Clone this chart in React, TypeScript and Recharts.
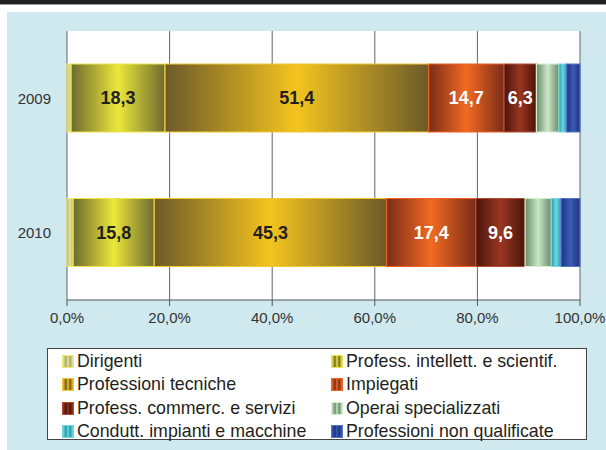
import { BarChart, Bar, XAxis, YAxis, CartesianGrid, LabelList } from 'recharts'

const years = ['2009', '2010']

const seriesNames = [
  'Dirigenti',
  'Profess. intellett. e scientif.',
  'Professioni tecniche',
  'Impiegati',
  'Profess. commerc. e servizi',
  'Operai specializzati',
  'Condutt. impianti e macchine',
  'Professioni non qualificate',
]

const dirigenti = [0.8, 1.2]
const intellettuali = [18.3, 15.8]
const tecniche = [51.4, 45.3]
const impiegati = [14.7, 17.4]
const commercio = [6.3, 9.6]
const operai = [4.4, 5.1]
const conduttori = [1.5, 1.9]
const nonQualificate = [2.6, 3.7]

const xTicks = [0, 20, 40, 60, 80, 100]

const seriesValues = [dirigenti, intellettuali, tecniche, impiegati, commercio, operai, conduttori, nonQualificate]

// dark edge, bright centre, border, label colour (null = no label)
const STYLES: { dark: string; bright: string; border: string; label: string | null }[] = [
  { dark: '#a8a860', bright: '#e8e8a0', border: '#ecec70', label: null },
  { dark: '#6e6a30', bright: '#ece83a', border: '#f0e448', label: '#231f20' },
  { dark: '#6c5a2a', bright: '#f4c41e', border: '#f2c830', label: '#231f20' },
  { dark: '#7a2c18', bright: '#f26a22', border: '#f26024', label: '#ffffff' },
  { dark: '#4a1408', bright: '#9a3622', border: '#b24a34', label: '#ffffff' },
  { dark: '#6a8a6a', bright: '#cae8c8', border: '#d4f0d2', label: null },
  { dark: '#2a9aa8', bright: '#6cd8e2', border: '#74d4e2', label: null },
  { dark: '#1c3282', bright: '#3c5cb2', border: '#5474c4', label: null },
]

const data = years.map((year, i) => {
  const row: Record<string, string | number> = { year }
  seriesValues.forEach((vals, s) => {
    row[`s${s}`] = vals[i]
  })
  return row
})

const FONT = '"Liberation Sans", Arial, sans-serif'

const fmtPct = (v: number) => `${v.toFixed(1).replace('.', ',')}%`
const fmtVal = (v: number) => v.toFixed(1).replace('.', ',')

function LegendBox() {
  return (
    <div
      style={{
        position: 'absolute',
        left: 47,
        top: 348,
        width: 538,
        height: 90,
        background: '#fff',
        border: '1px solid #444',
        fontFamily: FONT,
        fontSize: 17.8,
        color: '#231f20',
      }}
    >
      {seriesNames.map((name, i) => {
        const st = STYLES[i]
        const col = i % 2
        const row = Math.floor(i / 2)
        return (
          <div
            key={name}
            style={{
              position: 'absolute',
              left: col === 0 ? 14 : 283,
              top: 2 + row * 23.3,
              display: 'flex',
              alignItems: 'center',
              whiteSpace: 'nowrap',
              lineHeight: '21px',
            }}
          >
            <span
              style={{
                display: 'inline-block',
                width: 12,
                height: 13,
                marginRight: 3,
                boxSizing: 'border-box',
                border: `1px solid ${st.border}`,
                background: `linear-gradient(to right, ${st.bright}, ${st.dark} 30%, ${st.bright} 50%, ${st.dark} 70%, ${st.bright})`,
              }}
            />
            {name}
          </div>
        )
      })}
    </div>
  )
}

export default function App() {
  return (
    <div style={{ position: 'absolute', left: 0, top: 0, width: 606, height: 450, background: '#fff', overflow: 'hidden' }}>
      <div style={{ position: 'absolute', left: 0, top: 0, width: 606, height: 4, background: '#231f20' }} />
      <div style={{ position: 'absolute', left: 0, top: 4, width: 606, height: 1, background: '#9a9a9a' }} />
      <div style={{ position: 'absolute', left: 7, top: 12, width: 599, height: 438, background: '#cfe9ef' }} />
      <div style={{ position: 'absolute', left: 0, top: 0 }}>
        <BarChart
          width={606}
          height={450}
          data={data}
          layout="vertical"
          margin={{ top: 31, right: 26, bottom: 120, left: 0 }}
          barSize={68}
        >
          <defs>
            {STYLES.map((st, i) => (
              <linearGradient key={i} id={`grad${i}`} x1="0" y1="0" x2="1" y2="0">
                <stop offset="0%" stopColor={st.dark} />
                <stop offset="50%" stopColor={st.bright} />
                <stop offset="100%" stopColor={st.dark} />
              </linearGradient>
            ))}
          </defs>
          <CartesianGrid horizontal={false} stroke="#666" fill="#fff" fillOpacity={1} yAxisId="cat" />
          <XAxis
            type="number"
            domain={[0, 100]}
            ticks={xTicks}
            tickFormatter={fmtPct}
            height={30}
            stroke="#555"
            tickSize={6}
            tickMargin={6}
            tick={{ fontSize: 15, fill: '#333', fontFamily: FONT }}
          />
          <YAxis
            yAxisId="bounds"
            type="number"
            domain={[0, 2]}
            ticks={[0, 1, 2]}
            tick={false}
            width={0}
            stroke="#777"
            tickSize={6}
          />
          <YAxis
            yAxisId="cat"
            type="category"
            dataKey="year"
            width={67}
            axisLine={false}
            tickLine={false}
            tickMargin={10}
            tick={{ fontSize: 15, fill: '#333', fontFamily: FONT }}
          />
          {seriesNames.map((name, i) => (
            <Bar
              key={name}
              name={name}
              dataKey={`s${i}`}
              stackId="a"
              yAxisId="cat"
              fill={`url(#grad${i})`}
              stroke={STYLES[i].border}
              strokeWidth={1.2}
              isAnimationActive={false}
            >
              {STYLES[i].label && (
                <LabelList
                  dataKey={`s${i}`}
                  position="center"
                  formatter={(v: number) => fmtVal(v)}
                  fill={STYLES[i].label as string}
                  fontSize={18}
                  fontWeight="bold"
                  fontFamily={FONT}
                />
              )}
            </Bar>
          ))}
        </BarChart>
      </div>
      <LegendBox />
    </div>
  )
}
